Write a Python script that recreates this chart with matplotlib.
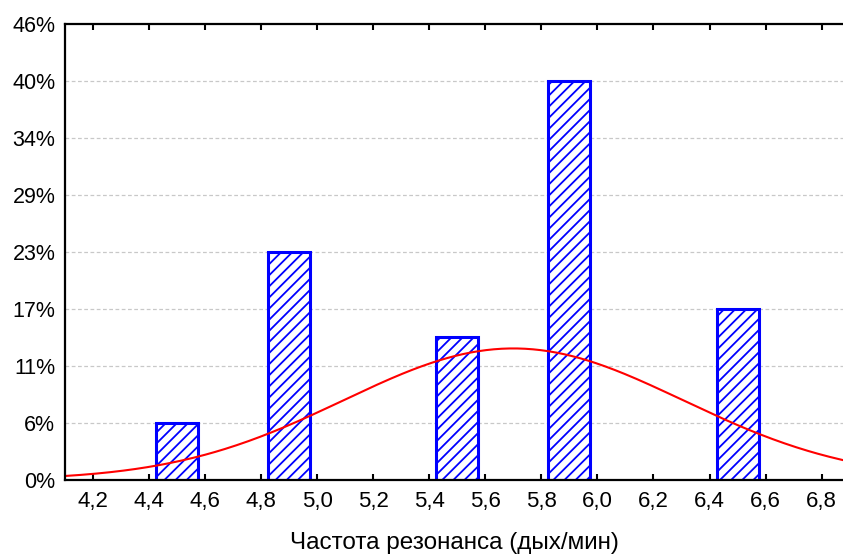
import numpy as np
import matplotlib.pyplot as plt

plt.rcParams['font.family'] = ['Liberation Sans', 'DejaVu Sans']
plt.rcParams['hatch.linewidth'] = 1.3
plt.rcParams['hatch.color'] = '#3a3aff'

# Histogram data (counts out of 35 observations)
bin_centers = [4.5, 4.9, 5.5, 5.9, 6.5]
counts = [2, 8, 5, 14, 6]
n_total = 35
bin_width = 0.2

# Fitted normal curve parameters
fit_mean = 5.7
fit_sd = 0.605

y_ticks = [0, 2, 4, 6, 8, 10, 12, 14, 16]
y_labels = ['0%', '6%', '11%', '17%', '23%', '29%', '34%', '40%', '46%']
x_ticks = [4.2, 4.4, 4.6, 4.8, 5.0, 5.2, 5.4, 5.6, 5.8, 6.0, 6.2, 6.4, 6.6, 6.8]
x_labels = ['4,2', '4,4', '4,6', '4,8', '5,0', '5,2', '5,4', '5,6', '5,8',
            '6,0', '6,2', '6,4', '6,6', '6,8']

fig = plt.figure(figsize=(8.43, 5.54), dpi=100)
ax = fig.add_axes([0.0771, 0.1336, 0.9229, 0.8231])

xmin, xmax = 4.101, 6.876
ax.set_xlim(xmin, xmax)
ax.set_ylim(0, 16)

# grid
for t in y_ticks[1:-1]:
    ax.axhline(t, color='#c8c8c8', lw=0.9, ls=(0, (3, 2)), zorder=0)

ax.bar(bin_centers, counts, width=0.15, facecolor='white', edgecolor='blue',
       linewidth=2.2, hatch='///', zorder=2)

# normal curve scaled to counts
xs = np.linspace(xmin, xmax, 400)
ys = n_total * bin_width / (fit_sd * np.sqrt(2 * np.pi)) * np.exp(-(xs - fit_mean) ** 2 / (2 * fit_sd ** 2))
ax.plot(xs, ys, color='red', lw=1.5, zorder=3)

ax.set_yticks(y_ticks)
ax.set_yticklabels(y_labels, fontsize=15.5)
ax.set_xticks(x_ticks)
ax.set_xticklabels(x_labels, fontsize=16)
ax.tick_params(axis='x', direction='in', length=4, width=1.5, top=True, pad=8)
ax.tick_params(axis='y', length=0, pad=7)

ax.spines['right'].set_visible(False)
for s in ['left', 'bottom', 'top']:
    ax.spines[s].set_linewidth(1.6)
    ax.spines[s].set_zorder(4)

ax.set_xlabel('Частота резонанса (дых/мин)', fontsize=17.5, labelpad=14)

fig.savefig('out.png', dpi=100)
